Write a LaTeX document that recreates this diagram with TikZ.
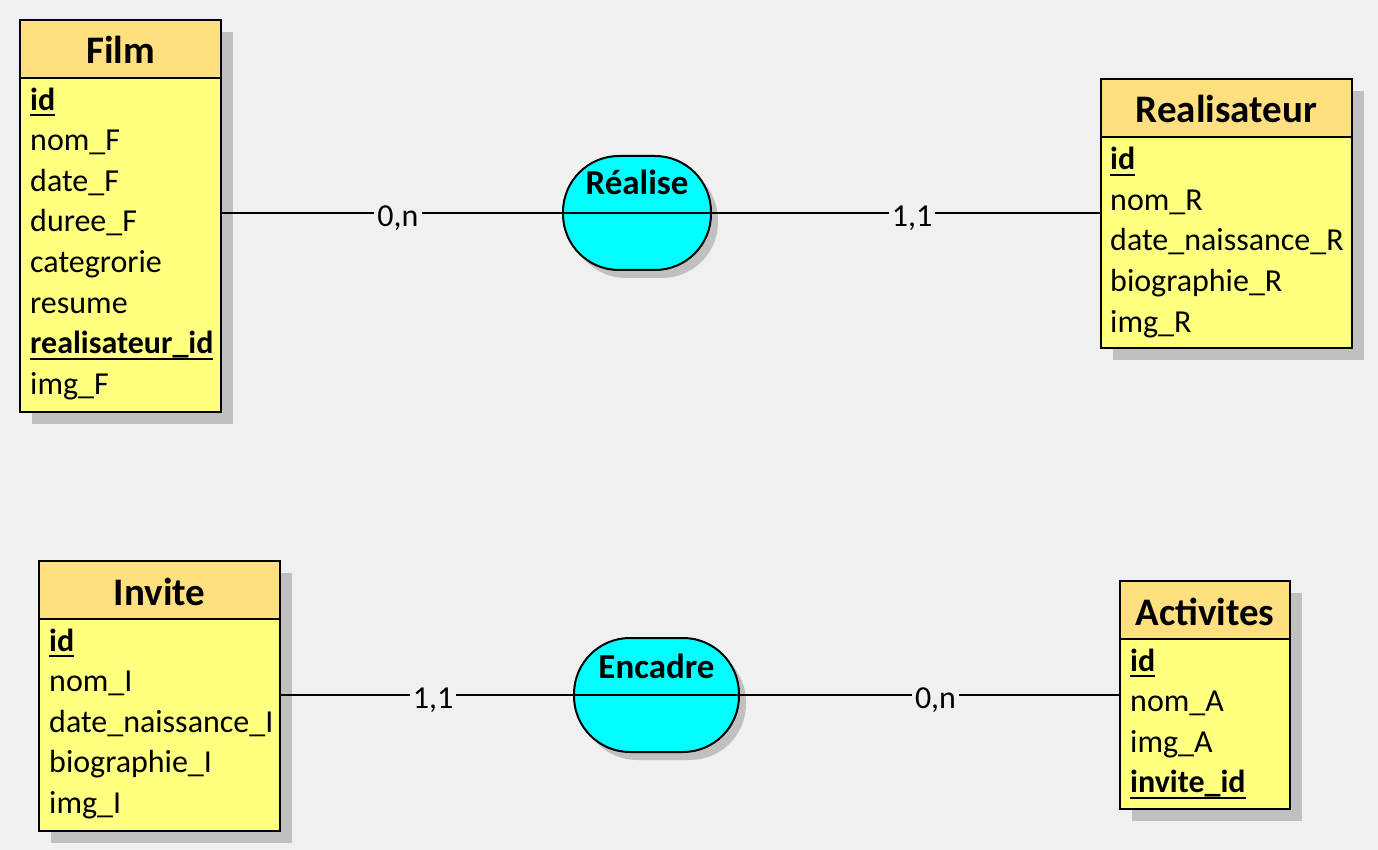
\documentclass[tikz,border=0pt]{standalone}
\usepackage{fontspec}
\setmainfont{Carlito}
\usetikzlibrary{shadows}

\definecolor{fond}{RGB}{240,240,240}
\definecolor{entete}{RGB}{255,223,128}
\definecolor{corps}{RGB}{255,255,128}
\definecolor{relfill}{RGB}{0,255,255}
\definecolor{ombre}{RGB}{192,192,192}

\newcommand{\cle}[1]{\textbf{\setbox0\hbox{#1}\rlap{\rule[-6pt]{\wd0}{2pt}}\box0}}
\newcommand{\attrfont}{\fontsize{32}{38}\selectfont}
\newcommand{\titrefont}{\fontsize{39}{46}\selectfont\bfseries}
\newcommand{\relfont}{\fontsize{35}{42}\selectfont\bfseries}

\tikzset{
  entete/.style={draw, line width=2pt, fill=entete, anchor=north west, inner sep=0pt,
    text height=30pt, text depth=0pt, font=\titrefont,
    drop shadow={shadow xshift=12pt, shadow yshift=-12pt, fill=ombre, opacity=1}},
  corps/.style={draw, line width=2pt, fill=corps, anchor=north west, inner sep=0pt,
    drop shadow={shadow xshift=12pt, shadow yshift=-12pt, fill=ombre, opacity=1}},
  attr/.style={anchor=base west, inner sep=0pt, font=\attrfont},
  relation/.style={draw, line width=2pt, fill=relfill, rounded corners=56pt, inner sep=0pt,
    drop shadow={shadow xshift=7pt, shadow yshift=-8pt, fill=ombre, opacity=1}},
  relnom/.style={anchor=base, inner sep=0pt, font=\relfont},
  lien/.style={line width=2pt},
  card/.style={fill=fond, inner xsep=3pt, inner ysep=1pt, font=\attrfont, xshift=6pt, yshift=-5pt}
}

\begin{document}
\begin{tikzpicture}[x=1pt, y=-1pt]
        \useasboundingbox[fill=fond] (0,0) rectangle (1378,850);
        % Entite Film
        \node[entete, minimum width=201pt, minimum height=58pt] (filmT) at (19,19) {Film};
        \node[corps, minimum width=201pt, minimum height=334pt] (film) at (19,77) {};
        \node[attr] (filmA1) at (30,110.5) {\cle{id}};
        \node[attr] (filmA2) at (30,151) {nom\_F};
        \node[attr] (filmA3) at (30,191.5) {date\_F};
        \node[attr] (filmA4) at (30,232) {duree\_F};
        \node[attr] (filmA5) at (30,272.5) {categrorie};
        \node[attr] (filmA6) at (30,313) {resume};
        \node[attr] (filmA7) at (30,353.5) {\cle{realisateur\_id}};
        \node[attr] (filmA8) at (30,394) {img\_F};
        % Entite Realisateur
        \node[entete, minimum width=251pt, minimum height=58pt] (realiT) at (1100,78) {Realisateur};
        \node[corps, minimum width=251pt, minimum height=211pt] (reali) at (1100,136) {};
        \node[attr] (realiA1) at (1110,170) {\cle{id}};
        \node[attr] (realiA2) at (1110,210.5) {nom\_R};
        \node[attr] (realiA3) at (1110,251) {date\_naissance\_R};
        \node[attr] (realiA4) at (1110,291.5) {biographie\_R};
        \node[attr] (realiA5) at (1110,332) {img\_R};
        % Entite Invite
        \node[entete, minimum width=241pt, minimum height=58pt] (inviteT) at (38,560) {Invite};
        \node[corps, minimum width=241pt, minimum height=212pt] (invite) at (38,618) {};
        \node[attr] (inviteA1) at (49,651) {\cle{id}};
        \node[attr] (inviteA2) at (49,691.5) {nom\_I};
        \node[attr] (inviteA3) at (49,732) {date\_naissance\_I};
        \node[attr] (inviteA4) at (49,772.5) {biographie\_I};
        \node[attr] (inviteA5) at (49,813) {img\_I};
        % Entite Activites
        \node[entete, minimum width=170pt, minimum height=58pt] (activT) at (1119,580) {Activites};
        \node[corps, minimum width=170pt, minimum height=170pt] (activ) at (1119,638) {};
        \node[attr] (activA1) at (1130,671) {\cle{id}};
        \node[attr] (activA2) at (1130,711.5) {nom\_A};
        \node[attr] (activA3) at (1130,752) {img\_A};
        \node[attr] (activA4) at (1130,792.5) {\cle{invite\_id}};
        % Associations
        \node[relation, minimum width=148pt, minimum height=114pt] (realise) at (637,213) {};
        \draw[lien] (realise.west) -- (realise.east);
        \node[relnom] (realiseN) at (637,195) {Réalise};
        \node[relation, minimum width=165pt, minimum height=114pt] (encadre) at (656.5,695) {};
        \draw[lien] (encadre.west) -- (encadre.east);
        \node[relnom] (encadreN) at (656.5,678) {Encadre};
        % Liens et cardinalites
        \draw[lien] (film.east |- realise.west) -- node[card] (c1) {0,n} (realise.west);
        \draw[lien] (realise.east) -- node[card] (c2) {1,1} (realise.east -| reali.west);
        \draw[lien] (invite.east |- encadre.west) -- node[card] (c3) {1,1} (encadre.west);
        \draw[lien] (encadre.east) -- node[card] (c4) {0,n} (encadre.east -| activ.west);
\end{tikzpicture}
\end{document}
